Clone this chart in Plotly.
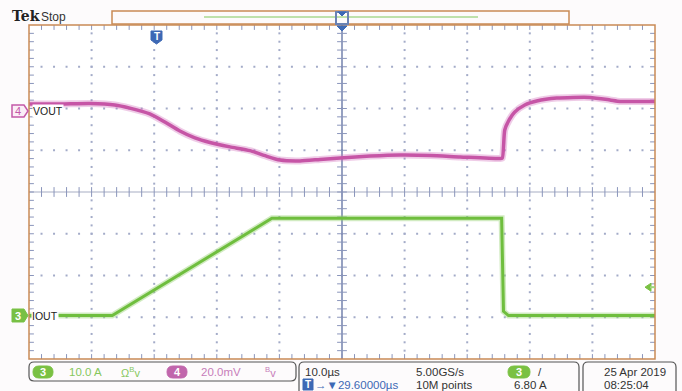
import plotly.graph_objects as go

# ---------------- data ----------------
# time in microseconds relative to trigger
vout_t = [-20.4, -15.4, -10.6, -6.7, -4.3, -1.1, 1.3, 3.7, 6.1, 8.5, 11.7, 14.9, 17.3,
          19.7, 22.9, 26.1, 29.3, 34.1, 38.9, 43.7, 48.5, 54.8, 55.2, 55.6, 56.3, 57.2,
          58.8, 60.7, 63.9, 69.2, 72.4, 74.0, 79.6]
# VOUT deviation in mV
vout_mv = [3.4, 3.4, 3.6, 2.9, 1.4, -1.4, -5.3, -9.6, -12.9, -15.1, -17.2, -19.0, -21.4,
           -23.5, -23.9, -23.2, -22.5, -21.6, -21.1, -21.3, -22.0, -22.8, -22.6, -9.1, -4.3, -0.5,
           2.9, 4.8, 6.2, 6.5, 5.3, 4.6, 4.6]

iout_t = [-20.4, -7.1, 18.4, 55.1, 55.4, 56.2, 79.6]
iout_a = [0.0, 0.0, 23.3, 23.3, 1.0, 0.0, 0.0]

# scope settings
TIME_PER_DIV = 10.0      # us/div
H_CENTER = 29.6          # us, trigger delay
CH3_SCALE = 10.0         # A/div
CH3_POS = -2.96          # div
CH4_SCALE = 20.0         # mV/div
CH4_POS = 1.94           # div
TRIG_LEVEL = 6.80        # A

# ---------------- geometry ----------------
W, H = 682, 391
L, R, T, B = 29, 655, 25, 359
XMIN = H_CENTER - 5 * TIME_PER_DIV
XMAX = H_CENTER + 5 * TIME_PER_DIV


def px(x):
    return (x - L) / (R - L)


def py(y):
    return (B - y) / (B - T)


ORANGE = "#c98a55"
GRID = "#a3abc8"
GRN = "#6fbe3e"
BLUE = "#3d69b5"
TXT = "#333333"
FONT = "Liberation Sans, Arial, sans-serif"

fig = go.Figure()

# ---------------- graticule ----------------
gx, gy = [], []
for k in range(-4, 5):
    if k == 0:
        continue
    xv = H_CENTER + k * TIME_PER_DIV
    for m in range(1, 40):
        gx.append(xv)
        gy.append(-4 + m * 0.2)
for k in range(-3, 4):
    if k == 0:
        continue
    for m in range(1, 50):
        gx.append(XMIN + m * TIME_PER_DIV / 5)
        gy.append(k)
fig.add_trace(go.Scatter(x=gx, y=gy, mode="markers", hoverinfo="skip",
                         marker=dict(symbol="square", size=2, color=GRID, line=dict(width=0))))

# center cross lines
fig.add_trace(go.Scatter(x=[XMIN, XMAX], y=[0, 0], mode="lines", hoverinfo="skip",
                         line=dict(color="#d3d6e1", width=2)))
fig.add_trace(go.Scatter(x=[H_CENTER, H_CENTER], y=[-4, 4], mode="lines", hoverinfo="skip",
                         line=dict(color="#7382ad", width=1.5)))
# ticks on center lines and borders
hx = [XMIN + m * TIME_PER_DIV / 5 for m in range(1, 50)]
vy = [-4 + m * 0.2 for m in range(1, 40)]
tick_line = dict(width=1, color="#8a95bb")
fig.add_trace(go.Scatter(x=hx * 3, y=[0] * len(hx) + [4] * len(hx) + [-4] * len(hx),
                         mode="markers", hoverinfo="skip",
                         marker=dict(symbol="line-ns", size=7, line=tick_line)))
fig.add_trace(go.Scatter(x=[H_CENTER] * len(vy) + [XMIN] * len(vy) + [XMAX] * len(vy),
                         y=vy * 3, mode="markers", hoverinfo="skip",
                         marker=dict(symbol="line-ew", size=7, line=tick_line)))

# ---------------- waveforms ----------------
vout_div = [v / CH4_SCALE + CH4_POS for v in vout_mv]
iout_div = [i / CH3_SCALE + CH3_POS for i in iout_a]

fig.add_trace(go.Scatter(x=vout_t, y=vout_div, mode="lines", hoverinfo="skip",
                         line=dict(color="rgba(210,110,185,0.35)", width=7, shape="spline", smoothing=0.6)))
fig.add_trace(go.Scatter(x=vout_t, y=vout_div, mode="lines", name="VOUT",
                         line=dict(color="#c655a6", width=3.5, shape="spline", smoothing=0.6)))
fig.add_trace(go.Scatter(x=iout_t, y=iout_div, mode="lines", hoverinfo="skip",
                         line=dict(color="rgba(140,205,100,0.4)", width=6)))
fig.add_trace(go.Scatter(x=iout_t, y=iout_div, mode="lines", name="IOUT",
                         line=dict(color=GRN, width=3)))

shapes = []
ann = []


def rect(x0, y0, x1, y1, line_color, width=1.5, fill=None, layer="above"):
    shapes.append(dict(type="rect", xref="paper", yref="paper",
                       x0=px(x0), x1=px(x1), y0=py(y1), y1=py(y0),
                       line=dict(color=line_color, width=width),
                       fillcolor=fill if fill else "rgba(0,0,0,0)", layer=layer))


def poly(points, line_color, fill, width=1.2):
    path = "M " + " L ".join(f"{px(a):.5f},{py(b):.5f}" for a, b in points) + " Z"
    shapes.append(dict(type="path", xref="paper", yref="paper", path=path,
                       line=dict(color=line_color, width=width), fillcolor=fill, layer="above"))


def rounded(x0, y0, x1, y1, r, color, fill="rgba(0,0,0,0)", width=1.2):
    def p(a, b):
        return f"{px(a):.5f},{py(b):.5f}"
    path = (f"M {p(x0 + r, y0)} L {p(x1 - r, y0)} Q {p(x1, y0)} {p(x1, y0 + r)} "
            f"L {p(x1, y1 - r)} Q {p(x1, y1)} {p(x1 - r, y1)} L {p(x0 + r, y1)} "
            f"Q {p(x0, y1)} {p(x0, y1 - r)} L {p(x0, y0 + r)} Q {p(x0, y0)} {p(x0 + r, y0)} Z")
    shapes.append(dict(type="path", xref="paper", yref="paper", path=path,
                       line=dict(color=color, width=width), fillcolor=fill, layer="above"))


def text(s, x, y, color=TXT, size=12, xanchor="left", family=FONT, bg=None):
    d = dict(text=s, xref="paper", yref="paper", x=px(x), y=py(y), showarrow=False,
             xanchor=xanchor, yanchor="middle", font=dict(color=color, size=size, family=family))
    if bg:
        d["bgcolor"] = bg
    d["borderpad"] = 0
    ann.append(d)


# plot border
rect(L, T, R, B, ORANGE, 1.5)

# record view bar on top
rect(112, 11, 569, 24, ORANGE, 1.5, fill="#fdfafb")
shapes.append(dict(type="line", xref="paper", yref="paper", x0=px(204), x1=px(478),
                   y0=py(17), y1=py(17), line=dict(color="#a9d890", width=1.5)))
rect(336, 12, 348, 24, "#6a82b4", 2)
poly([(338, 12), (346, 12), (342, 16)], BLUE, BLUE, 1)
poly([(337, 26), (347, 26), (342, 31)], BLUE, BLUE, 1)

# trigger position marker
poly([(151, 31), (162, 31), (162, 40), (156.5, 44), (151, 40)], BLUE, BLUE, 1)
text("<b>T</b>", 156.5, 36.5, "white", 10, "center")

# channel markers on the left
poly([(12, 105), (24, 105), (28, 111), (24, 117), (12, 117)], "#c35aa8", "#fbeef7", 1.5)
text("4", 17.5, 111, "#c35aa8", 11, "center")
text("VOUT", 32, 111, "#222222", 10.5, "left", bg="white")
poly([(12, 309), (24, 309), (28, 315.5), (24, 322), (12, 322)], "#78c044", "#78c044", 1)
text("<b>3</b>", 17.5, 315.5, "white", 11, "center")
text("IOUT", 31, 315.5, "#222222", 10.5, "left", bg="white")

# trigger level arrow on the right
ty = TRIG_LEVEL / CH3_SCALE + CH3_POS
trig_y_px = B - (ty + 4) / 8 * (B - T)
poly([(645, trig_y_px), (651, trig_y_px - 4), (651, trig_y_px + 4)], "#7ac143", "#7ac143", 1)
shapes.append(dict(type="line", xref="paper", yref="paper", x0=px(650), x1=px(655),
                   y0=py(trig_y_px), y1=py(trig_y_px), line=dict(color="#9fd37c", width=2)))

# top-left label
text("<b>Tek</b>", 11, 16, "#222222", 14, "left", family="DejaVu Serif, serif")
text("Stop", 40, 17, TXT, 12, "left")

# bottom readout boxes
rounded(29, 362, 296, 381, 5, "#555555")
rounded(299, 362, 579, 398, 5, "#555555")
rounded(583, 362, 676, 398, 5, "#555555")

R1, R2, FS = 371.5, 384.5, 11.5
rounded(33, 366, 53, 378, 6, "#7ac143", "#7ac143", 1)
text("<b>3</b>", 43, R1, "white", 11, "center")
text("10.0 A", 68, R1, "#86c75c", FS)
text("Ω<sup>B</sup>v", 120, R1, "#86c75c", 11)
rounded(167, 366, 187, 378, 6, "#c166ac", "#c166ac", 1)
text("<b>4</b>", 177, R1, "white", 11, "center")
text("20.0mV", 200, R1, "#c77dba", FS)
text("<sup>B</sup>v", 264, R1, "#c77dba", 11)

text("10.0µs", 304, R1, TXT, FS)
rect(303, 379, 313, 390, BLUE, 1, fill=BLUE)
text("<b>T</b>", 308, 384.5, "white", 10, "center")
text("→▼29.60000µs", 314, R2, BLUE, FS)
text("5.00GS/s", 415, R1, TXT, FS)
text("10M points", 415, R2, TXT, FS)
rounded(508, 366, 530, 378, 6, "#7ac143", "#7ac143", 1)
text("<b>3</b>", 519, R1, "white", 11, "center")
text("/", 537, R1, TXT, FS)
text("6.80 A", 513, R2, TXT, FS)
text("25 Apr 2019", 603, R1, TXT, FS)
text("08:25:04", 603, R2, TXT, FS)

fig.update_layout(
    width=W, height=H, autosize=False,
    margin=dict(l=L, r=W - R, t=T, b=H - B, pad=0),
    paper_bgcolor="#fdfbfc", plot_bgcolor="white",
    showlegend=False,
    xaxis=dict(range=[XMIN, XMAX], visible=False, showgrid=False, zeroline=False, fixedrange=True),
    yaxis=dict(range=[-4, 4], visible=False, showgrid=False, zeroline=False, fixedrange=True),
    shapes=shapes, annotations=ann,
)

fig.write_html("out.html", config={"displayModeBar": False})
